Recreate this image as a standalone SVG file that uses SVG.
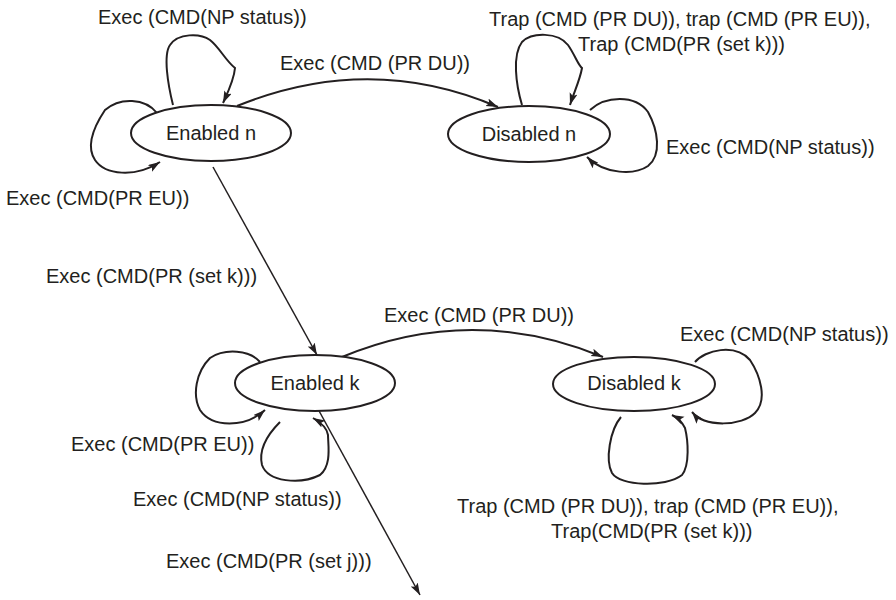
<svg xmlns="http://www.w3.org/2000/svg" width="896" height="600" viewBox="0 0 896 600">
<style>
text{font-family:"Liberation Sans",Arial,sans-serif;font-size:20px;fill:#231f20}
.node ellipse{fill:#fff;stroke:#231f20;stroke-width:2}
.node text{text-anchor:middle}
.edge{fill:none;stroke:#231f20;stroke-width:2;marker-end:url(#ah)}
.thin{stroke-width:1.5}
</style>
<defs>
<marker id="ah" markerUnits="userSpaceOnUse" markerWidth="14" markerHeight="10" refX="12" refY="4" orient="auto">
<path d="M0,0 L12,4 L0,8 L2.5,4 Z" fill="#231f20"/>
</marker>
</defs>
<rect width="896" height="600" fill="#fff"/>
<g id="connectors">
<path class="edge" d="M173,105 C168,85 163,55 170,45 C178,33 200,33 210,40 C220,48 225,60 235,68 C234,80 228,92 223,103"/>
<path class="edge" d="M157,113 C145,98 120,97 105,110 C95,125 85,145 95,160 C105,175 135,178 160,162"/>
<path class="edge" d="M237,106 Q370,52 498,107"/>
<path class="edge" d="M522,105 C516,85 512,55 522,42 C532,32 558,32 568,45 C575,55 578,65 582,68 C580,80 574,92 570,105"/>
<path class="edge" d="M590,110 C605,96 635,94 648,112 C658,130 662,155 648,166 C635,175 605,175 587,157"/>
<path class="edge thin" d="M213,167 L317,355"/>
<path class="edge" d="M342,357 Q472,303 603,357"/>
<path class="edge" d="M260,362 C250,350 225,348 210,358 C196,372 192,395 200,410 C212,428 245,428 265,410"/>
<path class="edge" d="M280,422 C270,432 258,448 262,465 C268,482 300,485 320,475 C332,465 328,445 328,435 C327,428 320,422 313,418"/>
<path class="edge thin" d="M318,409 L420,595"/>
<path class="edge" d="M695,362 C705,350 735,343 750,360 C760,375 768,400 755,413 C742,426 705,428 692,412"/>
<path class="edge" d="M621,417 C610,430 605,460 612,473 C620,486 665,488 682,475 C690,465 688,440 685,428 C682,422 678,418 672,415"/>
</g>
<g id="labels">
<text x="98" y="24">Exec (CMD(NP status))</text>
<text x="280" y="70">Exec (CMD (PR DU))</text>
<text x="489" y="26">Trap (CMD (PR DU)), trap (CMD (PR EU)),</text>
<text x="578" y="51">Trap (CMD(PR (set k)))</text>
<text x="666" y="154">Exec (CMD(NP status))</text>
<text x="6" y="205">Exec (CMD(PR EU))</text>
<text x="46" y="283">Exec (CMD(PR (set k)))</text>
<text x="384" y="322">Exec (CMD (PR DU))</text>
<text x="680" y="341">Exec (CMD(NP status))</text>
<text x="71" y="451">Exec (CMD(PR EU))</text>
<text x="133" y="506">Exec (CMD(NP status))</text>
<text x="457" y="513">Trap (CMD (PR DU)), trap (CMD (PR EU)),</text>
<text x="551" y="538">Trap(CMD(PR (set k)))</text>
<text x="166" y="568">Exec (CMD(PR (set j)))</text>
</g>
<g id="enabled-n" class="node"><ellipse cx="211" cy="133" rx="80" ry="28"/><text x="211" y="140">Enabled n</text></g>
<g id="disabled-n" class="node"><ellipse cx="529" cy="134" rx="81" ry="28"/><text x="529" y="141">Disabled n</text></g>
<g id="enabled-k" class="node"><ellipse cx="315" cy="383" rx="80" ry="28"/><text x="315" y="390">Enabled k</text></g>
<g id="disabled-k" class="node"><ellipse cx="634" cy="384" rx="81" ry="27"/><text x="634" y="390">Disabled k</text></g>
</svg>
